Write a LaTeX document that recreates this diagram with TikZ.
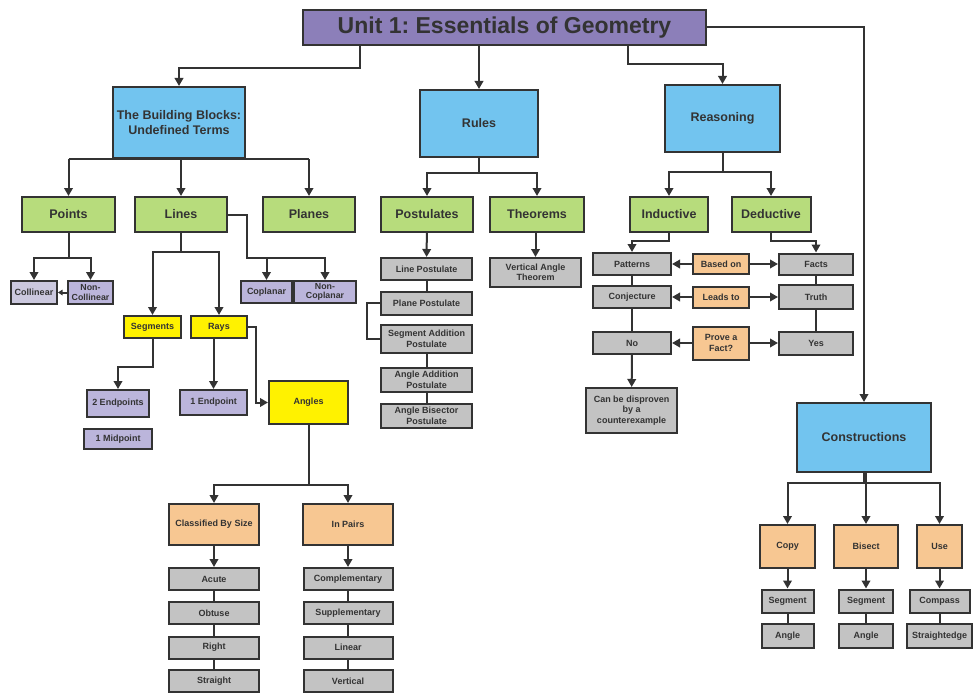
\documentclass[tikz,border=0pt]{standalone}
\usepackage{fontspec}
\setmainfont{Liberation Sans}
\usetikzlibrary{arrows.meta}
\frenchspacing
\definecolor{linec}{HTML}{333333}
\definecolor{titlec}{HTML}{8C7FB9}
\definecolor{bluec}{HTML}{72C4EF}
\definecolor{greenc}{HTML}{B7DC7C}
\definecolor{grayc}{HTML}{C3C3C3}
\definecolor{lavc}{HTML}{BBB5DB}
\definecolor{lavlc}{HTML}{CBC8DE}
\definecolor{yellowc}{HTML}{FFF200}
\definecolor{orangec}{HTML}{F7C792}
\tikzset{
  mapbox/.style={draw=linec, line width=2pt, inner sep=1pt, align=center, text=linec},
  sz/.style 2 args={minimum width=#1pt, minimum height=#2pt},
  bigtxt/.style={font=\bfseries\fontsize{12.5}{15}\selectfont},
  smalltxt/.style={font=\bfseries\fontsize{9}{10.5}\selectfont},
  tighttxt/.style={font=\bfseries\fontsize{8.8}{9.5}\selectfont},
  titlebox/.style={mapbox, fill=titlec, font=\bfseries\fontsize{23}{26}\selectfont},
  bluebox/.style={mapbox, bigtxt, fill=bluec},
  greenbox/.style={mapbox, bigtxt, fill=greenc},
  graybox/.style={mapbox, smalltxt, fill=grayc},
  lavbox/.style={mapbox, smalltxt, fill=lavc},
  yellowbox/.style={mapbox, smalltxt, fill=yellowc},
  orangebox/.style={mapbox, smalltxt, fill=orangec},
  conn/.style={draw=linec, line width=2pt},
  arr/.style={conn, -{Triangle[length=8pt,width=8.5pt]}},
  smallarr/.style={conn, -{Triangle[length=4.5pt,width=5.5pt]}}
}
\begin{document}
\begin{tikzpicture}[x=1pt,y=-1pt]
\useasboundingbox (0,0) rectangle (973,698);
\node[titlebox, sz={403}{35}] (title) at (504.5,27.5) {Unit 1: Essentials of Geometry};
\node[bluebox, sz={132}{71}] (bb) at (179,122.5) {The Building Blocks:\\Undefined Terms};
\node[bluebox, sz={118}{67}] (rules) at (479,123.5) {Rules};
\node[bluebox, sz={115}{67}] (reas) at (722.5,118.5) {Reasoning};
\node[bluebox, sz={134}{69}] (cons) at (864,437.5) {Constructions};
\node[greenbox, sz={93}{35}] (points) at (68.5,214.5) {Points};
\node[greenbox, sz={92}{35}] (lines) at (181,214.5) {Lines};
\node[greenbox, sz={92}{35}] (planes) at (309,214.5) {Planes};
\node[greenbox, sz={92}{35}] (postulates) at (427,214.5) {Postulates};
\node[greenbox, sz={94}{35}] (theorems) at (537,214.5) {Theorems};
\node[greenbox, sz={78}{35}] (inductive) at (669,214.5) {Inductive};
\node[greenbox, sz={79}{35}] (deductive) at (771,214.5) {Deductive};
\node[lavbox, fill=lavlc, sz={46}{23}] (collinear) at (34,292.5) {Collinear};
\node[lavbox, tighttxt, sz={45}{23}] (noncol) at (90.5,292.5) {Non-\\Collinear};
\node[lavbox, sz={51}{22}] (coplanar) at (266.5,292) {Coplanar};
\node[lavbox, tighttxt, sz={62}{22}] (noncop) at (325,292) {Non-\\Coplanar};
\node[yellowbox, sz={57}{22}] (segments) at (152.5,327) {Segments};
\node[yellowbox, sz={56}{22}] (rays) at (219,327) {Rays};
\node[lavbox, sz={62}{27}] (twoend) at (118,403.5) {2 Endpoints};
\node[lavbox, sz={68}{20}] (midpt) at (118,439) {1 Midpoint};
\node[lavbox, sz={67}{25}] (oneend) at (213.5,402.5) {1 Endpoint};
\node[yellowbox, sz={79}{43}] (angles) at (308.5,402.5) {Angles};
\node[orangebox, sz={90}{41}] (clsize) at (214,524.5) {Classified By Size};
\node[orangebox, sz={90}{41}] (pairs) at (348,524.5) {In Pairs};
\node[graybox, sz={90}{22}] (acute) at (214,579) {Acute};
\node[graybox, sz={90}{22}] (obtuse) at (214,613) {Obtuse};
\node[graybox, sz={90}{22}] (rightang) at (214,647.5) {Right};
\node[graybox, sz={90}{22}] (straight) at (214,681) {Straight};
\node[graybox, sz={89}{22}] (compl) at (348,579) {Complementary};
\node[graybox, sz={89}{22}] (suppl) at (348,613) {Supplementary};
\node[graybox, sz={89}{22}] (linear) at (348,647.5) {Linear};
\node[graybox, sz={89}{22}] (vertical) at (348,681) {Vertical};
\node[graybox, sz={91}{22}] (linepost) at (426.5,269) {Line Postulate};
\node[graybox, sz={91}{23}] (planepost) at (426.5,303) {Plane Postulate};
\node[graybox, sz={91}{28}] (segadd) at (426.5,339) {Segment Addition\\Postulate};
\node[graybox, sz={91}{24}] (angadd) at (426.5,380) {Angle Addition\\Postulate};
\node[graybox, sz={91}{24}] (angbis) at (426.5,416) {Angle Bisector\\Postulate};
\node[graybox, sz={91}{29}] (vat) at (535.5,272.5) {Vertical Angle\\Theorem};
\node[graybox, sz={78}{22}] (patterns) at (632,264) {Patterns};
\node[graybox, sz={78}{22}] (conj) at (632,297) {Conjecture};
\node[graybox, sz={78}{22}] (no) at (632,343) {No};
\node[graybox, sz={91}{45}] (disproof) at (631.5,410.5) {Can be disproven\\by a\\counterexample};
\node[orangebox, sz={56}{20}] (based) at (721,264) {Based on};
\node[orangebox, sz={56}{21}] (leads) at (721,297) {Leads to};
\node[orangebox, sz={56}{33}] (prove) at (721,343) {Prove a\\Fact?};
\node[graybox, sz={74}{21}] (facts) at (816,264) {Facts};
\node[graybox, sz={74}{24}] (truth) at (816,297) {Truth};
\node[graybox, sz={74}{23}] (yes) at (816,343) {Yes};
\node[orangebox, sz={55}{43}] (copy) at (787.5,546.5) {Copy};
\node[orangebox, sz={64}{43}] (bisect) at (866,546.5) {Bisect};
\node[orangebox, sz={45}{43}] (use) at (939.5,546.5) {Use};
\node[graybox, sz={52}{23}] (seg1) at (787.5,601) {Segment};
\node[graybox, sz={52}{24}] (ang1) at (787.5,636) {Angle};
\node[graybox, sz={54}{23}] (seg2) at (866,601) {Segment};
\node[graybox, sz={54}{24}] (ang2) at (866,636) {Angle};
\node[graybox, sz={60}{23}] (compass) at (939.5,601) {Compass};
\node[graybox, sz={65}{24}] (straightedge) at (939.5,636) {Straightedge};

\draw[arr] (title.south -| 360,0) -- (360,68) -| (bb.north);
\draw[arr] (title.south -| rules.north) -- (rules.north);
\draw[arr] (title.south -| 628,0) -- (628,64) -| (reas.north);
\draw[arr] (title.east) -| (cons.north);

\draw[conn] (bb.south -| points.north) -- (bb.south -| planes.north);
\draw[arr] (bb.south -| points.north) -- (points.north);
\draw[arr] (bb.south -| lines.north) -- (lines.north);
\draw[arr] (bb.south -| planes.north) -- (planes.north);
\draw[arr] (rules.south) -- (rules.south |- 0,173) -| (postulates.north);
\draw[arr] (rules.south |- 0,173) -| (theorems.north);
\draw[arr] (reas.south) -- (reas.south |- 0,172) -| (inductive.north);
\draw[arr] (reas.south |- 0,172) -| (deductive.north);

\draw[arr] (points.south) -- (points.south |- 0,258) -| (collinear.north);
\draw[arr] (points.south |- 0,258) -| (noncol.north);
\draw[smallarr] (noncol.west) -- (collinear.east);
\draw[arr] (lines.south) -- (lines.south |- 0,252) -| (segments.north);
\draw[arr] (lines.south |- 0,252) -| (rays.north);
\draw[arr] (lines.east) -| (247,258) -| (noncop.north);
\draw[arr] (coplanar.north |- 0,258) -- (coplanar.north);
\draw[arr] (segments.south) |- (twoend.north |- 0,367) -- (twoend.north);
\draw[arr] (rays.south -| oneend.north) -- (oneend.north);
\draw[arr] (rays.east) -| (angles.west -| 256,0) -- (angles.west);
\draw[arr] (angles.south) -- (angles.south |- 0,485) -| (clsize.north);
\draw[arr] (angles.south |- 0,485) -| (pairs.north);
\draw[arr] (clsize) -- (acute);
\draw[arr] (pairs) -- (compl);
\foreach \a/\b in {acute/obtuse, obtuse/rightang, rightang/straight, compl/suppl, suppl/linear, linear/vertical}
  \draw[conn] (\a) -- (\b);

\draw[arr] (postulates) -- (linepost);
\draw[arr] (theorems.south -| vat.north) -- (vat.north);
\draw[conn] (linepost) -- (planepost);
\draw[conn] (planepost.west) -| (segadd.west -| 367,0) -- (segadd.west);
\draw[conn] (segadd) -- (angadd);
\draw[conn] (angadd) -- (angbis);

\draw[arr] (inductive.south) -- (inductive.south |- 0,241) -| (patterns.north);
\draw[arr] (deductive.south) -- (deductive.south |- 0,241) -| (facts.north);
\draw[conn] (patterns) -- (conj);
\draw[conn] (conj) -- (no);
\draw[arr] (no) -- (disproof);
\draw[conn] (facts) -- (truth);
\draw[conn] (truth) -- (yes);
\foreach \m/\l/\r in {based/patterns/facts, leads/conj/truth, prove/no/yes} {
  \draw[arr] (\m) -- (\l);
  \draw[arr] (\m) -- (\r);
}

\draw[arr] (cons.south) -- (cons.south |- 0,483) -| (copy.north);
\draw[arr] (cons.south |- 0,483) -| (use.north);
\draw[arr] (cons.south -| bisect.north) -- (bisect.north);
\draw[arr] (copy) -- (seg1);
\draw[arr] (bisect) -- (seg2);
\draw[arr] (use) -- (compass);
\draw[conn] (seg1) -- (ang1);
\draw[conn] (seg2) -- (ang2);
\draw[conn] (compass) -- (straightedge);
\end{tikzpicture}
\end{document}
